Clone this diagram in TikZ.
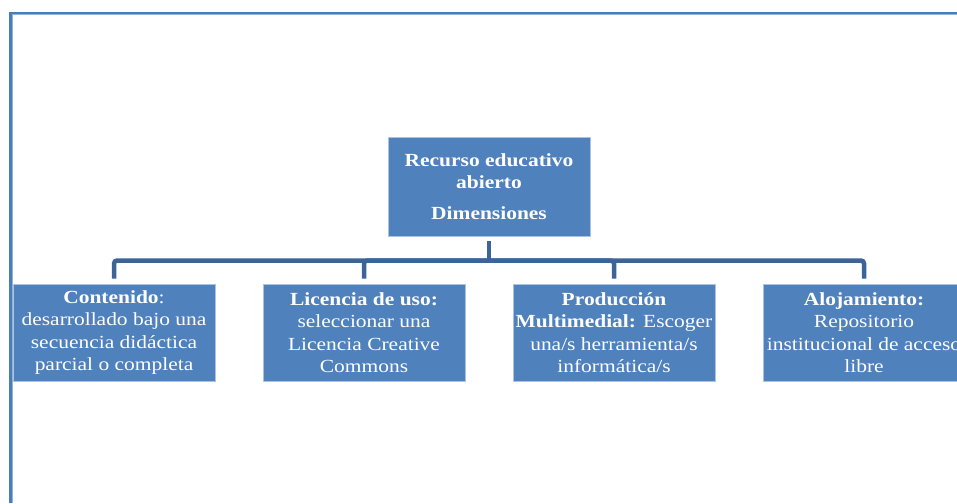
\documentclass[tikz,border=0pt]{standalone}
\usepackage{fontspec}
\setmainfont{Liberation Serif}[FakeStretch=1.16]
\usepackage{tikz}
\usepackage{xcolor}
\definecolor{boxblue}{RGB}{79,129,189}
\definecolor{boxedge}{RGB}{170,195,225}
\definecolor{linkblue}{RGB}{60,100,150}
\definecolor{frameblue}{RGB}{74,126,187}
\definecolor{framelight}{RGB}{149,179,215}

\begin{document}
\begin{tikzpicture}[x=1pt,y=-1pt]
      \useasboundingbox(0,0) rectangle (957,503);
      \tikzset{B/.style = {shape=rectangle, fill=boxblue, draw=boxedge, line width=0.8pt, text=white,
          minimum width=202pt, minimum height=97pt, inner sep=0pt, align=center,
          font=\fontsize{18.5}{22.4}\selectfont}}
      \tikzset{C/.style = {draw=linkblue, line width=4.5pt, rounded corners=3pt, shorten <=5pt}}
      % page frame
      \draw[frameblue,line width=2.5pt] (10.25,503) -- (10.25,13.25) -- (957,13.25);
      \draw[framelight,line width=1pt] (12,503) -- (12,15) -- (957,15);
      % boxes
      \node[B,minimum height=99pt](r) at (489,186.5) {\textbf{Recurso educativo}\\ \textbf{abierto}\\[8.5pt] \textbf{Dimensiones}};
      \node[B](c0) at (114,332.5) {\textbf{Contenido}:\\ desarrollado bajo una\\ secuencia didáctica\\ parcial o completa};
      \node[B](c1) at (364,332.5) {\textbf{Licencia de uso:}\\ seleccionar una\\ Licencia Creative\\ Commons};
      \node[B](c2) at (614,332.5) {\textbf{Producción}\\ \textbf{Multimedial:} Escoger\\ una/s herramienta/s\\ informática/s};
      \node[B](c3) at (864,332.5) {\textbf{Alojamiento:}\\ Repositorio\\ institucional de acceso\\ libre};
      \coordinate (j) at (489,260.5);
      % links
      \draw[C](r) -- (j);
      \draw[C](c0) |- (j);
      \draw[C](c3) |- (j);
      \draw[C](c1) |- (j);
      \draw[C](c2) |- (j);
    \end{tikzpicture}
\end{document}
